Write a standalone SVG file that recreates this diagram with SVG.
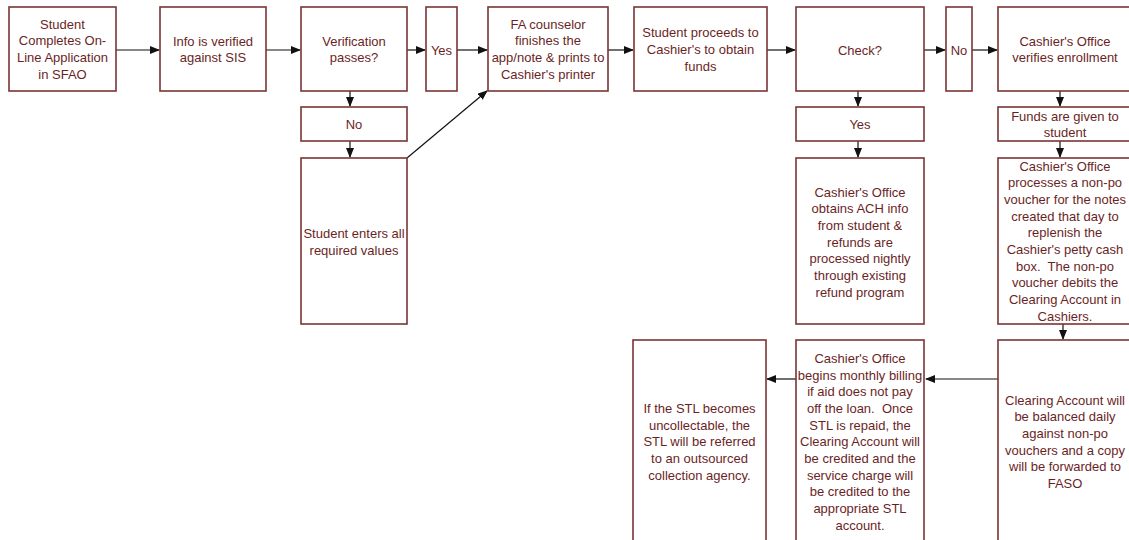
<svg xmlns="http://www.w3.org/2000/svg" width="1129" height="540" viewBox="0 0 1129 540">
<defs>
<marker id="ah" markerWidth="10" markerHeight="8" refX="9" refY="4" orient="auto" markerUnits="userSpaceOnUse">
<path d="M0,0 L10,4 L0,8 Z" fill="#111"/>
</marker>
<style>
.b{fill:#fff;stroke:#7a3434;stroke-width:1.6}
.t{font-family:"Liberation Sans",Arial,sans-serif;font-size:13px;fill:#6b1f1f;text-anchor:middle;white-space:pre}
.c{stroke:#111;stroke-width:1.2;fill:none;marker-end:url(#ah)}
</style>
</defs>
<rect width="1129" height="540" fill="#fff"/>
<g id="connectors">
<line class="c" x1="116" y1="50" x2="159" y2="50"/>
<line class="c" x1="266" y1="50" x2="300" y2="50"/>
<line class="c" x1="407" y1="50" x2="425" y2="50"/>
<line class="c" x1="457" y1="50" x2="487" y2="50"/>
<line class="c" x1="608" y1="50" x2="633" y2="50"/>
<line class="c" x1="767" y1="50" x2="795" y2="50"/>
<line class="c" x1="921" y1="50" x2="945" y2="50"/>
<line class="c" x1="972" y1="50" x2="997" y2="50"/>
<line class="c" x1="350" y1="91" x2="350" y2="106"/>
<line class="c" x1="350" y1="141" x2="350" y2="157"/>
<line class="c" x1="407" y1="158" x2="487" y2="91"/>
<line class="c" x1="858" y1="91" x2="858" y2="106"/>
<line class="c" x1="858" y1="141" x2="858" y2="157"/>
<line class="c" x1="1060" y1="91" x2="1060" y2="106"/>
<line class="c" x1="1060" y1="141" x2="1060" y2="157"/>
<line class="c" x1="1063" y1="324" x2="1063" y2="339"/>
<line class="c" x1="998" y1="379" x2="926" y2="379"/>
<line class="c" x1="796" y1="379" x2="767" y2="379"/>
</g>
<g id="n1"><rect class="b" x="9" y="7" width="107" height="84"/>
<text class="t" x="62.5" y="28.5">Student</text><text class="t" x="62.5" y="45">Completes On-</text><text class="t" x="62.5" y="62">Line Application</text><text class="t" x="62.5" y="78.5">in SFAO</text></g>
<g id="n2"><rect class="b" x="160" y="7" width="106" height="84"/>
<text class="t" x="213" y="45.5">Info is verified</text><text class="t" x="213" y="62">against SIS</text></g>
<g id="n3"><rect class="b" x="301" y="7" width="106" height="84"/>
<text class="t" x="354" y="45.5">Verification</text><text class="t" x="354" y="62">passes?</text></g>
<g id="n4"><rect class="b" x="426" y="7" width="31" height="84"/>
<text class="t" x="441.5" y="54.5">Yes</text></g>
<g id="n5"><rect class="b" x="488" y="7" width="120" height="84"/>
<text class="t" x="548" y="28.5">FA counselor</text><text class="t" x="548" y="45">finishes the</text><text class="t" x="548" y="62">app/note &amp; prints to</text><text class="t" x="548" y="78.5">Cashier's printer</text></g>
<g id="n6"><rect class="b" x="634" y="7" width="133" height="84"/>
<text class="t" x="700.5" y="36.5">Student proceeds to</text><text class="t" x="700.5" y="53.5">Cashier's to obtain</text><text class="t" x="700.5" y="70.5">funds</text></g>
<g id="n7"><rect class="b" x="796" y="7" width="128" height="84"/>
<text class="t" x="860" y="54.5">Check?</text></g>
<g id="n8"><rect class="b" x="946" y="7" width="26" height="84"/>
<text class="t" x="959" y="54.5">No</text></g>
<g id="n9"><rect class="b" x="998" y="7" width="134" height="84"/>
<text class="t" x="1065" y="45.5">Cashier's Office</text><text class="t" x="1065" y="62">verifies enrollment</text></g>
<g id="n10"><rect class="b" x="301" y="107" width="106" height="34"/>
<text class="t" x="354" y="128.5">No</text></g>
<g id="n11"><rect class="b" x="301" y="158" width="106" height="166"/>
<text class="t" x="354" y="237.5">Student enters all</text><text class="t" x="354" y="254.5">required values</text></g>
<g id="n12"><rect class="b" x="796" y="107" width="128" height="34"/>
<text class="t" x="860" y="128.5">Yes</text></g>
<g id="n13"><rect class="b" x="796" y="158" width="128" height="166"/>
<text class="t" x="860" y="196.5">Cashier's Office</text><text class="t" x="860" y="213.2">obtains ACH info</text><text class="t" x="860" y="229.9">from student &amp;</text><text class="t" x="860" y="246.6">refunds are</text><text class="t" x="860" y="263.3">processed nightly</text><text class="t" x="860" y="280">through existing</text><text class="t" x="860" y="296.5">refund program</text></g>
<g id="n14"><rect class="b" x="998" y="107" width="134" height="34"/>
<text class="t" x="1065" y="120.5">Funds are given to</text><text class="t" x="1065" y="137">student</text></g>
<g id="n15"><rect class="b" x="998" y="158" width="134" height="166"/>
<text class="t" x="1065" y="170.5">Cashier's Office</text><text class="t" x="1065" y="187.2">processes a non-po</text><text class="t" x="1065" y="203.9">voucher for the notes</text><text class="t" x="1065" y="220.6">created that day to</text><text class="t" x="1065" y="237.3">replenish the</text><text class="t" x="1065" y="254">Cashier's petty cash</text><text class="t" x="1065" y="270.7" xml:space="preserve">box.  The non-po</text><text class="t" x="1065" y="287.4">voucher debits the</text><text class="t" x="1065" y="304.1">Clearing Account in</text><text class="t" x="1065" y="320.8">Cashiers.</text></g>
<g id="n16"><rect class="b" x="998" y="340" width="134" height="210"/>
<text class="t" x="1065" y="404.5">Clearing Account will</text><text class="t" x="1065" y="421.2">be balanced daily</text><text class="t" x="1065" y="437.9">against non-po</text><text class="t" x="1065" y="454.6">vouchers and a copy</text><text class="t" x="1065" y="471.3">will be forwarded to</text><text class="t" x="1065" y="488">FASO</text></g>
<g id="n17"><rect class="b" x="796" y="340" width="128" height="210"/>
<text class="t" x="860" y="362.8">Cashier's Office</text><text class="t" x="860" y="379.5">begins monthly billing</text><text class="t" x="860" y="396.2">if aid does not pay</text><text class="t" x="860" y="412.9" xml:space="preserve">off the loan.  Once</text><text class="t" x="860" y="429.6">STL is repaid, the</text><text class="t" x="860" y="446.3">Clearing Account will</text><text class="t" x="860" y="463">be credited and the</text><text class="t" x="860" y="479.7">service charge will</text><text class="t" x="860" y="496.4">be credited to the</text><text class="t" x="860" y="513.1">appropriate STL</text><text class="t" x="860" y="529.8">account.</text></g>
<g id="n18"><rect class="b" x="633" y="340" width="133" height="210"/>
<text class="t" x="699.5" y="412.8">If the STL becomes</text><text class="t" x="699.5" y="429.5">uncollectable, the</text><text class="t" x="699.5" y="446.2">STL will be referred</text><text class="t" x="699.5" y="462.9">to an outsourced</text><text class="t" x="699.5" y="479.6">collection agency.</text></g>
</svg>
